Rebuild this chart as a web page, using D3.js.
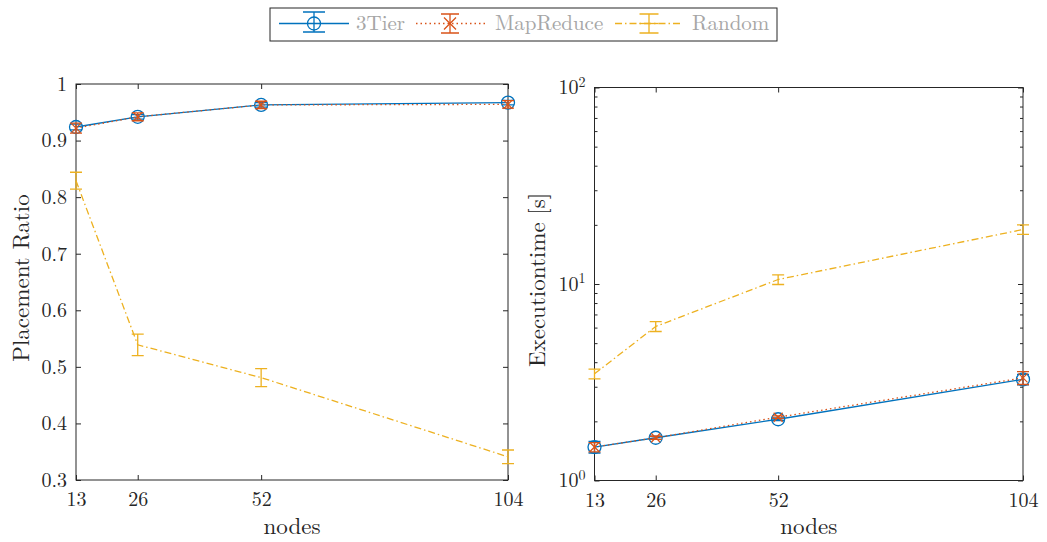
<!DOCTYPE html>
<html>
<head>
<meta charset="utf-8">
<script src="https://cdn.jsdelivr.net/npm/d3@7"></script>
<style>
  html, body { margin: 0; padding: 0; background: #fff; }
  svg { display: block; font-family: "Latin Modern Roman", "CMU Serif", "Liberation Serif", serif; }
</style>
</head>
<body>
<svg id="chart" width="1047" height="542"></svg>
<script>
// ---------- data ----------
const nodes = [13, 26, 52, 104];
const seriesNames = ["3Tier", "MapReduce", "Random"];

const ratio3Tier = [0.924, 0.942, 0.963, 0.967];
const ratio3TierErr = [0.005, 0.004, 0.004, 0.004];
const ratioMapReduce = [0.922, 0.942, 0.963, 0.964];
const ratioMapReduceErr = [0.009, 0.007, 0.0065, 0.0065];
const ratioRandom = [0.829, 0.539, 0.481, 0.341];
const ratioRandomErr = [0.015, 0.019, 0.016, 0.012];

const time3Tier = [1.48, 1.65, 2.05, 3.27];
const time3TierErr = [0.1, 0.03, 0.03, 0.2];
const timeMapReduce = [1.48, 1.65, 2.10, 3.33];
const timeMapReduceErr = [0.08, 0.03, 0.03, 0.25];
const timeRandom = [3.49, 6.08, 10.54, 18.94];
const timeRandomErr = [0.2, 0.35, 0.6, 1.05];

const xTicks = [13, 26, 52, 104];
const ratioTicks = [0.3, 0.4, 0.5, 0.6, 0.7, 0.8, 0.9, 1];
const timeTicks = [1, 10, 100];
const timeMinorTicks = [2, 3, 4, 5, 6, 7, 8, 9, 20, 30, 40, 50, 60, 70, 80, 90];

// ---------- styles ----------
const colors = ["#0072BD", "#D95319", "#EDB120"];
const dashes = [null, "1.5,3", "7,3,1.5,3"];
const axisColor = "#262626";
const lw = 1.3;

const svg = d3.select("#chart");

function drawMarker(g, type, cx, cy, color, size) {
  if (type === "circle") {
    g.append("circle").attr("cx", cx).attr("cy", cy).attr("r", size)
      .attr("fill", "none").attr("stroke", color).attr("stroke-width", lw);
  } else if (type === "x") {
    const s = size;
    g.append("path")
      .attr("d", `M${cx - s},${cy - s}L${cx + s},${cy + s}M${cx - s},${cy + s}L${cx + s},${cy - s}`)
      .attr("stroke", color).attr("stroke-width", lw).attr("fill", "none");
  }
}

function styleAxis(a) {
  a.attr("font-family", null).attr("font-size", null);
  a.select(".domain").remove();
  a.selectAll("line").attr("stroke", axisColor);
  a.selectAll("text").attr("font-size", 20).attr("fill", axisColor);
}

function drawPanel(cfg) {
  const { x, y, series, xLabel, yLabel, yLabelX, logY } = cfg;
  const g = svg.append("g");
  const [x0, x1] = x.range();
  const [yb, yt] = y.range();

  const bottom = g.append("g").attr("transform", `translate(0,${yb})`)
    .call(d3.axisBottom(x).tickValues(xTicks).tickSize(-5).tickPadding(12).tickFormat(d3.format("d")));
  const top = g.append("g").attr("transform", `translate(0,${yt})`)
    .call(d3.axisTop(x).tickValues(xTicks).tickSize(-5).tickFormat(""));
  let left, right;
  if (!logY) {
    left = g.append("g").attr("transform", `translate(${x0},0)`)
      .call(d3.axisLeft(y).tickValues(ratioTicks).tickSize(-5).tickPadding(9).tickFormat(d3.format("~g")));
    right = g.append("g").attr("transform", `translate(${x1},0)`)
      .call(d3.axisRight(y).tickValues(ratioTicks).tickSize(-5).tickFormat(""));
  } else {
    left = g.append("g").attr("transform", `translate(${x0},0)`)
      .call(d3.axisLeft(y).tickValues(timeTicks).tickSize(-5).tickPadding(9).tickFormat(""));
    right = g.append("g").attr("transform", `translate(${x1},0)`)
      .call(d3.axisRight(y).tickValues(timeTicks).tickSize(-5).tickFormat(""));
    const lm = g.append("g").attr("transform", `translate(${x0},0)`)
      .call(d3.axisLeft(y).tickValues(timeMinorTicks).tickSize(-3).tickFormat(""));
    const rm = g.append("g").attr("transform", `translate(${x1},0)`)
      .call(d3.axisRight(y).tickValues(timeMinorTicks).tickSize(-3).tickFormat(""));
    [lm, rm].forEach(styleAxis);
    left.selectAll(".tick").each(function (d) {
      const t = d3.select(this).select("text");
      t.text(null).attr("dy", "0.32em");
      t.append("tspan").text("10");
      t.append("tspan").attr("dy", "-0.55em").attr("font-size", 14).text(String(Math.round(Math.log10(d))));
    });
  }
  [bottom, top, left, right].forEach(styleAxis);
  g.append("rect").attr("x", x0).attr("y", yt).attr("width", x1 - x0).attr("height", yb - yt)
    .attr("fill", "none").attr("stroke", axisColor).attr("stroke-width", 1);

  g.append("text").attr("x", (x0 + x1) / 2).attr("y", 534).attr("text-anchor", "middle")
    .attr("font-size", 23).attr("fill", axisColor).text(xLabel);
  g.append("text").attr("transform", `translate(${yLabelX},${(yt + yb) / 2 - 4}) rotate(-90)`)
    .attr("text-anchor", "middle").attr("font-size", 23).attr("fill", axisColor).text(yLabel);

  const line = d3.line().x(d => x(d.n)).y(d => y(d.v));
  series.forEach((s, i) => {
    const pts = nodes.map((n, k) => ({ n, v: s.values[k], e: s.errs[k] }));
    const sg = g.append("g");
    sg.append("path").datum(pts).attr("d", line).attr("fill", "none")
      .attr("stroke", colors[i]).attr("stroke-width", lw)
      .attr("stroke-dasharray", dashes[i]);
    pts.forEach(p => {
      const cx = x(p.n), yl = y(p.v - p.e), yh = y(p.v + p.e), cw = 6;
      sg.append("path")
        .attr("d", `M${cx},${yl}L${cx},${yh}M${cx - cw},${yl}L${cx + cw},${yl}M${cx - cw},${yh}L${cx + cw},${yh}`)
        .attr("stroke", colors[i]).attr("stroke-width", lw).attr("fill", "none");
      drawMarker(sg, s.marker, cx, y(p.v), colors[i], s.marker === "circle" ? 6.5 : 4.5);
    });
  });
}

// ---------- left panel ----------
const xLeft = d3.scaleLinear().domain([13, 104]).range([76, 508]);
const yLeft = d3.scaleLinear().domain([0.3, 1]).range([480, 84]);
drawPanel({
  x: xLeft, y: yLeft, logY: false, xLabel: "nodes", yLabel: "Placement Ratio", yLabelX: 29,
  series: [
    { values: ratio3Tier, errs: ratio3TierErr, marker: "circle" },
    { values: ratioMapReduce, errs: ratioMapReduceErr, marker: "x" },
    { values: ratioRandom, errs: ratioRandomErr, marker: null }
  ]
});

// ---------- right panel ----------
const xRight = d3.scaleLinear().domain([13, 104]).range([594.5, 1023]);
const yRight = d3.scaleLog().domain([1, 100]).range([480.5, 87.5]);
drawPanel({
  x: xRight, y: yRight, logY: true, xLabel: "nodes", yLabel: "Executiontime [s]", yLabelX: 545,
  series: [
    { values: time3Tier, errs: time3TierErr, marker: "circle" },
    { values: timeMapReduce, errs: timeMapReduceErr, marker: "x" },
    { values: timeRandom, errs: timeRandomErr, marker: null }
  ]
});

// ---------- legend ----------
const lg = svg.append("g");
lg.append("rect").attr("x", 270).attr("y", 8).attr("width", 507).attr("height", 33)
  .attr("fill", "#fff").attr("stroke", axisColor).attr("stroke-width", 1);
const legendItems = [
  { lx0: 279, lx1: 349, cx: 314, cap: 11, vy0: 12, vy1: 32, marker: "circle", ms: 6.5, tx: 356 },
  { lx0: 416, lx1: 485, cx: 450, cap: 9, vy0: 14, vy1: 33, marker: "x", ms: 6, tx: 495 },
  { lx0: 615, lx1: 683, cx: 649, cap: 9.5, vy0: 14, vy1: 33, marker: null, ms: 0, tx: 692 }
];
const ly = 23.5;
legendItems.forEach((it, i) => {
  lg.append("path").attr("d", `M${it.lx0},${ly}L${it.lx1},${ly}`)
    .attr("stroke", colors[i]).attr("stroke-width", lw).attr("stroke-dasharray", dashes[i]);
  lg.append("path")
    .attr("d", `M${it.cx},${it.vy0}L${it.cx},${it.vy1}M${it.cx - it.cap},${it.vy0}L${it.cx + it.cap},${it.vy0}M${it.cx - it.cap},${it.vy1}L${it.cx + it.cap},${it.vy1}`)
    .attr("stroke", colors[i]).attr("stroke-width", lw).attr("fill", "none");
  if (i === 2) {
    lg.append("path").attr("d", `M${it.cx - it.cap},${ly}L${it.cx + it.cap},${ly}`)
      .attr("stroke", colors[i]).attr("stroke-width", lw);
  }
  drawMarker(lg, it.marker, it.cx, ly, colors[i], it.ms);
  lg.append("text").attr("x", it.tx).attr("y", 30).attr("font-size", 21)
    .attr("fill", "#a6a6a6").text(seriesNames[i]);
});
</script>
</body>
</html>
